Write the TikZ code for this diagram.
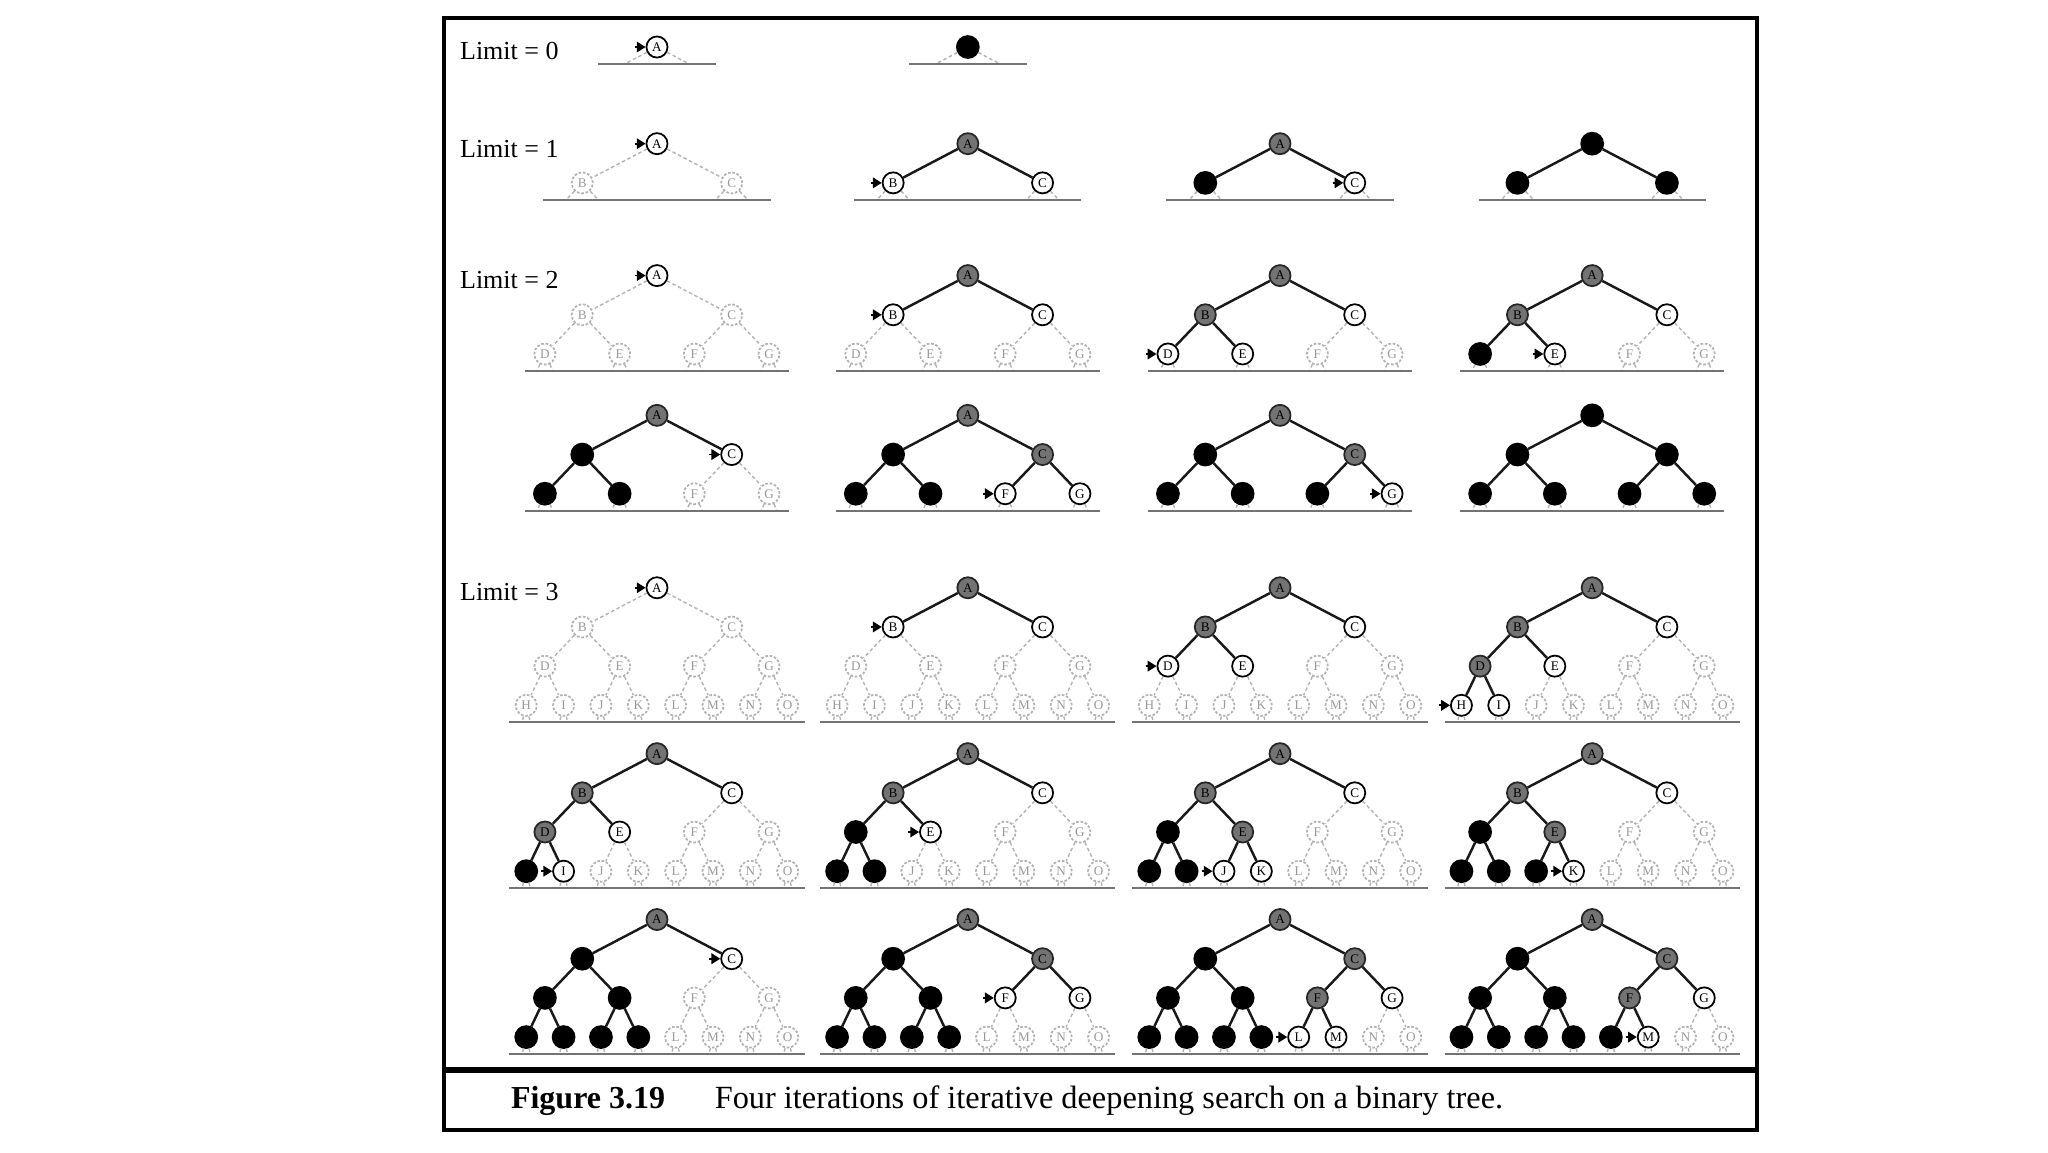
\documentclass[tikz,border=0pt]{standalone}
\usepackage{fontspec}
\setmainfont{Liberation Serif}
\usetikzlibrary{arrows.meta}

\tikzset{
  tnode/.style={circle,minimum size=12pt,inner sep=0pt,line width=1pt,
    font=\fontsize{7.5}{7.5}\selectfont},
  st-u/.style={tnode,draw=black!30,dash pattern=on 1.5pt off 1pt,text=black!40,fill=white},
  st-f/.style={tnode,draw=black,fill=white},
  st-e/.style={tnode,draw=black!85,fill=black!55},
  st-x/.style={tnode,draw=black,fill=black,minimum size=12.5pt},
  solidedge/.style={draw=black!90,line width=1.4pt},
  faintedge/.style={draw=black!30,line width=0.8pt,dash pattern=on 2pt off 1.5pt},
  groundline/.style={draw=black!55,line width=1.3pt},
  marker/.style={-{Triangle[length=5pt,width=6pt]},line width=1pt,black},
  limitlabel/.style={anchor=west,inner sep=0pt,font=\fontsize{14.8}{16}\selectfont},
}

\newcommand{\treeletter}[1]{\ifcase#1\or A\or B\or C\or D\or E\or F\or G\or H\or I\or J\or K\or L\or M\or N\or O\fi}

% \idstree{name}{x}{y}{depth}{node states}{marked node}
\newcommand{\idstree}[6]{%
  \foreach \s [count=\i] in {#5} {
    \pgfmathtruncatemacro\lv{(\i>=2)+(\i>=4)+(\i>=8)}
    \pgfmathsetmacro\nx{#2+((\i-2^\lv)+0.5)*2^(3-\lv)*28.6-4*28.6}
    \pgfmathsetmacro\ny{#3+\lv*30}
    \node[st-\s] (#1-\i) at (\nx,\ny) {\treeletter{\i}};
    \ifnum\lv=#4
      \pgfmathsetmacro\dx{2^(1-\lv)*28.6*13/30}
      \coordinate (#1-\i-sl) at (\nx-\dx,\ny+13);
      \coordinate (#1-\i-sr) at (\nx+\dx,\ny+13);
      \draw[faintedge] (#1-\i) -- (#1-\i-sl);
      \draw[faintedge] (#1-\i) -- (#1-\i-sr);
    \fi
    \ifnum\i=#6
      \coordinate (#1-mk) at (\nx-17,\ny);
      \draw[marker] (#1-mk) -- (#1-\i);
    \fi
  }
  \foreach \s [count=\i] in {#5} {
    \ifnum\i>1
      \pgfmathtruncatemacro\up{\i/2}
      \if u\s \draw[faintedge] (#1-\up) -- (#1-\i);
      \else \draw[solidedge] (#1-\up) -- (#1-\i); \fi
    \fi
  }
  \pgfmathsetmacro\hw{{45,87,101,113}[#4]}
  \coordinate (#1-gl) at (#2-\hw,#3+#4*30+13);
  \coordinate (#1-gr) at (#2+\hw,#3+#4*30+13);
  \draw[groundline] (#1-gl) -- (#1-gr);
}

\begin{document}
\begin{tikzpicture}[x=0.026122cm,y=-0.026122cm]
\useasboundingbox (0,0) rectangle (1568,882);

% frame and caption
\draw[line width=2.2pt] (340,14) rectangle (1345,865);
\draw[line width=3.6pt] (340,819) -- (1345,819);
\node[anchor=west,inner sep=0pt,font=\bfseries\fontsize{18.2}{20}\selectfont] (figno) at (391,843) {Figure 3.19};
\node[anchor=west,inner sep=0pt,font=\fontsize{18.4}{20}\selectfont] (figcap) at (547,843)
{Four iterations of iterative deepening search on a binary tree.};

% limit labels
\node[limitlabel] (lim0) at (352,39) {Limit = 0};
\node[limitlabel] (lim1) at (352,114) {Limit = 1};
\node[limitlabel] (lim2) at (352,214) {Limit = 2};
\node[limitlabel] (lim3) at (352,453) {Limit = 3};

% limit 0
\idstree{a1}{503}{36}{0}{f}{1}
\idstree{a2}{741}{36}{0}{x}{0}

% limit 1
\idstree{b1}{503}{110}{1}{f,u,u}{1}
\idstree{b2}{741}{110}{1}{e,f,f}{2}
\idstree{b3}{980}{110}{1}{e,x,f}{3}
\idstree{b4}{1219}{110}{1}{x,x,x}{0}

% limit 2
\idstree{c1}{503}{211}{2}{f,u,u,u,u,u,u}{1}
\idstree{c2}{741}{211}{2}{e,f,f,u,u,u,u}{2}
\idstree{c3}{980}{211}{2}{e,e,f,f,f,u,u}{4}
\idstree{c4}{1219}{211}{2}{e,e,f,x,f,u,u}{5}
\idstree{c5}{503}{318}{2}{e,x,f,x,x,u,u}{3}
\idstree{c6}{741}{318}{2}{e,x,e,x,x,f,f}{6}
\idstree{c7}{980}{318}{2}{e,x,e,x,x,x,f}{7}
\idstree{c8}{1219}{318}{2}{x,x,x,x,x,x,x}{0}

% limit 3
\idstree{d1}{503}{450}{3}{f,u,u,u,u,u,u,u,u,u,u,u,u,u,u}{1}
\idstree{d2}{741}{450}{3}{e,f,f,u,u,u,u,u,u,u,u,u,u,u,u}{2}
\idstree{d3}{980}{450}{3}{e,e,f,f,f,u,u,u,u,u,u,u,u,u,u}{4}
\idstree{d4}{1219}{450}{3}{e,e,f,e,f,u,u,f,f,u,u,u,u,u,u}{8}
\idstree{d5}{503}{577}{3}{e,e,f,e,f,u,u,x,f,u,u,u,u,u,u}{9}
\idstree{d6}{741}{577}{3}{e,e,f,x,f,u,u,x,x,u,u,u,u,u,u}{5}
\idstree{d7}{980}{577}{3}{e,e,f,x,e,u,u,x,x,f,f,u,u,u,u}{10}
\idstree{d8}{1219}{577}{3}{e,e,f,x,e,u,u,x,x,x,f,u,u,u,u}{11}
\idstree{d9}{503}{704}{3}{e,x,f,x,x,u,u,x,x,x,x,u,u,u,u}{3}
\idstree{d10}{741}{704}{3}{e,x,e,x,x,f,f,x,x,x,x,u,u,u,u}{6}
\idstree{d11}{980}{704}{3}{e,x,e,x,x,e,f,x,x,x,x,f,f,u,u}{12}
\idstree{d12}{1219}{704}{3}{e,x,e,x,x,e,f,x,x,x,x,x,f,u,u}{13}
\end{tikzpicture}
\end{document}
